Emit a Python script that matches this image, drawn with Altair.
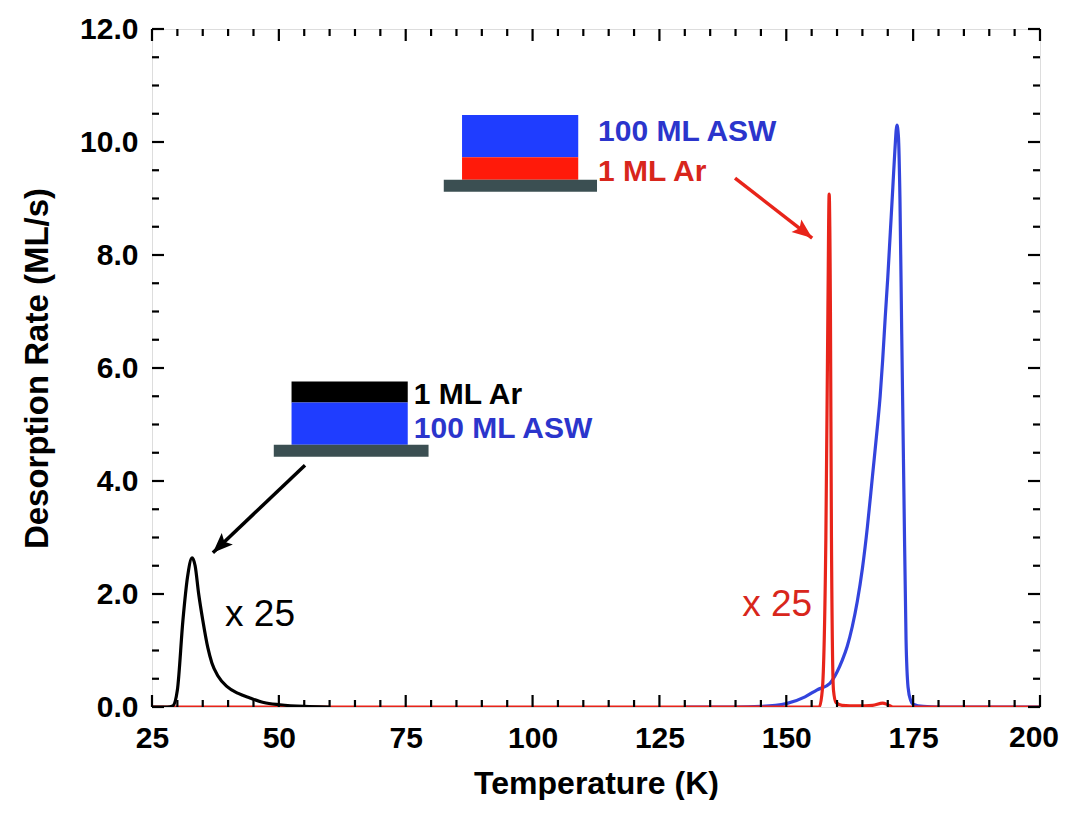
import altair as alt
import pandas as pd

# ---------------- data ----------------
black_T = [25, 28, 29.1, 30, 31.1, 32, 32.9, 33.5, 34.2, 35.0, 36.0, 36.8, 38.0, 39.8, 42, 44.3, 47, 50.2, 55, 60]
black_R = [0, 0, 0.02, 0.3, 1.54, 2.3, 2.64, 2.5, 2.0, 1.54, 1.05, 0.78, 0.55, 0.36, 0.24, 0.16, 0.08, 0.04, 0.01, 0]

blue_T = [130, 140, 145, 150, 153.7, 156, 158.6, 160, 161, 162, 163, 164, 165, 166, 167, 168, 168.5,
          169, 169.5, 170, 170.5, 171, 171.4, 171.8, 172.1, 172.4, 172.75, 173.2, 173.6, 174, 174.5, 175, 177, 180, 200]
blue_R = [0, 0, 0.01, 0.06, 0.18, 0.3, 0.42, 0.62, 0.82, 1.07, 1.42, 1.87, 2.45, 3.2, 4.1, 5.0, 5.5,
          6.15, 6.9, 7.6, 8.4, 9.2, 9.85, 10.3, 10.1, 9.0, 6.6, 3.66, 1.2, 0.35, 0.12, 0.05, 0.01, 0, 0]

red_T = [25, 155, 156.5, 157.1, 157.8, 158.2, 158.45, 158.7, 158.9, 159.3, 159.8, 161, 164, 167, 169, 170, 171, 200]
red_R = [0, 0, 0, 0.3, 3.0, 7.0, 9.08, 7.0, 3.0, 0.3, 0.08, 0.03, 0.02, 0.03, 0.07, 0.04, 0, 0]

x_major = [25, 50, 75, 100, 125, 150, 175, 200]
x_minor = [t for t in range(25, 201, 5) if t % 25 != 0]
y_major = [0, 2, 4, 6, 8, 10, 12]
y_minor = [v / 2 for v in range(0, 25) if v % 4 != 0]

# layer-stack sketches (x from, x to, y from, y to, colour)
stack_x1 = [86.1, 86.1, 82.5, 52.5, 52.5, 49.0]
stack_x2 = [109.0, 109.0, 112.7, 75.4, 75.4, 79.5]
stack_y1 = [10.48, 9.73, 9.33, 5.76, 5.39, 4.64]
stack_y2 = [9.73, 9.33, 9.12, 5.39, 4.64, 4.43]
stack_c = ["#1f3dff", "#ff1a0a", "#3b4f52", "#000000", "#1f3dff", "#3b4f52"]

label_T = [112.9, 112.9, 76.6, 76.6]
label_R = [10.18, 9.47, 5.52, 4.92]
label_txt = ["100 ML ASW", "1 ML Ar", "1 ML Ar", "100 ML ASW"]
label_c = ["#2b35cc", "#d8261c", "#000000", "#2b35cc"]

mult_T = [39.4, 141.3]
mult_R = [1.63, 1.80]
mult_txt = ["x 25", "x 25"]
mult_c = ["#000000", "#d8261c"]

arrow_T = [139.9, 155.1, 55.15, 37.0]
arrow_R = [9.36, 8.30, 4.28, 2.73]
arrow_g = ["red", "red", "black", "black"]
arrow_c = ["#e8241a", "#e8241a", "#000000", "#000000"]
head_T = [155.1, 37.0]
head_R = [8.30, 2.73]
head_angle = [128, 226]
head_c = ["#e8241a", "#000000"]

W, H = 888, 678
FONT = "Liberation Sans"
LAST = x_major[-1]

# ---------------- tables ----------------
curves = pd.concat([
    pd.DataFrame({"T": blue_T, "R": blue_R, "s": "ASW", "o": 0}),
    pd.DataFrame({"T": red_T, "R": red_R, "s": "Ar on Au", "o": 1}),
    pd.DataFrame({"T": black_T, "R": black_R, "s": "Ar on ASW", "o": 2}),
])
stacks = pd.DataFrame({"x1": stack_x1, "x2": stack_x2, "y1": stack_y1, "y2": stack_y2, "c": stack_c})
labels = pd.DataFrame({"T": label_T, "R": label_R, "t": label_txt, "c": label_c})
mults = pd.DataFrame({"T": mult_T, "R": mult_R, "t": mult_txt, "c": mult_c})
arrows = pd.DataFrame({"T": arrow_T, "R": arrow_R, "g": arrow_g, "c": arrow_c})
heads = pd.DataFrame({"T": head_T, "R": head_R, "a": head_angle, "c": head_c})
last_lab = pd.DataFrame({"T": [LAST], "t": [str(LAST)]})

xs = alt.Scale(domain=[25, 200], nice=False, zero=False)
ys = alt.Scale(domain=[0, 12], nice=False)

xax = alt.Axis(values=x_major, format="d", title="Temperature (K)", ticks=False, domain=False, grid=False,
               labelExpr=f"datum.value == {LAST} ? '' : datum.label",
               labelFont=FONT, labelFontWeight="bold", labelFontSize=30, labelColor="black", labelPadding=16,
               titleFont=FONT, titleFontWeight="bold", titleFontSize=32, titleColor="black", titlePadding=15,
               labelFlush=False)
yax = alt.Axis(values=y_major, format=".1f", title="Desorption Rate (ML/s)", ticks=False, domain=False, grid=False,
               labelFont=FONT, labelFontWeight="bold", labelFontSize=30, labelColor="black", labelPadding=14,
               titleFont=FONT, titleFontWeight="bold", titleFontSize=33, titleColor="black", titlePadding=25,
               labelFlush=False)

line_colors = {"ASW": "#3344dd", "Ar on Au": "#e8241a", "Ar on ASW": "#000000"}
curves["c"] = curves["s"].map(line_colors)

base_lines = alt.Chart(curves).mark_line(strokeWidth=3.2, interpolate="monotone", clip=True).encode(
    x=alt.X("T:Q", scale=xs, axis=xax),
    y=alt.Y("R:Q", scale=ys, axis=yax),
    color=alt.Color("c:N", scale=None),
    order="o:Q",
    detail="s:N",
)


def tick_layer(vals, orient, length):
    df = pd.DataFrame({"v": vals})
    ch = alt.Chart(df).mark_rule(color="black", strokeWidth=2.2)
    if orient == "bottom":
        return ch.encode(x=alt.X("v:Q", scale=xs), y=alt.value(H), y2=alt.value(H - length))
    if orient == "top":
        return ch.encode(x=alt.X("v:Q", scale=xs), y=alt.value(0), y2=alt.value(length))
    if orient == "left":
        return ch.encode(y=alt.Y("v:Q", scale=ys), x=alt.value(0), x2=alt.value(length))
    return ch.encode(y=alt.Y("v:Q", scale=ys), x=alt.value(W), x2=alt.value(W - length))


ticks = [tick_layer(x_major, o, 12) for o in ("bottom", "top")] + \
        [tick_layer(x_minor, o, 7) for o in ("bottom", "top")] + \
        [tick_layer(y_major, o, 12) for o in ("left", "right")] + \
        [tick_layer(y_minor, o, 7) for o in ("left", "right")]

rects = alt.Chart(stacks).mark_rect().encode(
    x=alt.X("x1:Q", scale=xs), x2="x2:Q",
    y=alt.Y("y1:Q", scale=ys), y2="y2:Q",
    color=alt.Color("c:N", scale=None),
)

label_marks = alt.Chart(labels).mark_text(font=FONT, fontWeight="bold", fontSize=30, align="left",
                                          baseline="middle").encode(
    x=alt.X("T:Q", scale=xs), y=alt.Y("R:Q", scale=ys), text="t:N", color=alt.Color("c:N", scale=None))

mult_marks = alt.Chart(mults).mark_text(font=FONT, fontSize=37, align="left", baseline="middle").encode(
    x=alt.X("T:Q", scale=xs), y=alt.Y("R:Q", scale=ys), text="t:N", color=alt.Color("c:N", scale=None))

last_label = alt.Chart(last_lab).mark_text(font=FONT, fontWeight="bold", fontSize=30, align="center",
                                           baseline="top", dx=-6, color="black").encode(
    x=alt.X("T:Q", scale=xs), y=alt.value(H + 16), text="t:N")

arrow_lines = alt.Chart(arrows).mark_line(strokeWidth=3.5).encode(
    x=alt.X("T:Q", scale=xs), y=alt.Y("R:Q", scale=ys), detail="g:N",
    color=alt.Color("c:N", scale=None))

arrow_heads = alt.Chart(heads).mark_point(shape="M0,0 L0.4,1 L0,0.8 L-0.4,1 Z", filled=True, size=1600,
                                          opacity=1, strokeWidth=0).encode(
    x=alt.X("T:Q", scale=xs), y=alt.Y("R:Q", scale=ys),
    angle=alt.Angle("a:Q", scale=None), color=alt.Color("c:N", scale=None))

chart = alt.layer(base_lines, *ticks, rects, label_marks, mult_marks, last_label, arrow_lines,
                  arrow_heads).properties(
    width=W, height=H,
    padding={"left": 144, "top": 21, "right": 20, "bottom": 93},
    autosize="none",
).configure_view(stroke="black", strokeWidth=3).configure(background="white")

chart.save("out.html", embed_options={"renderer": "svg", "actions": False})
